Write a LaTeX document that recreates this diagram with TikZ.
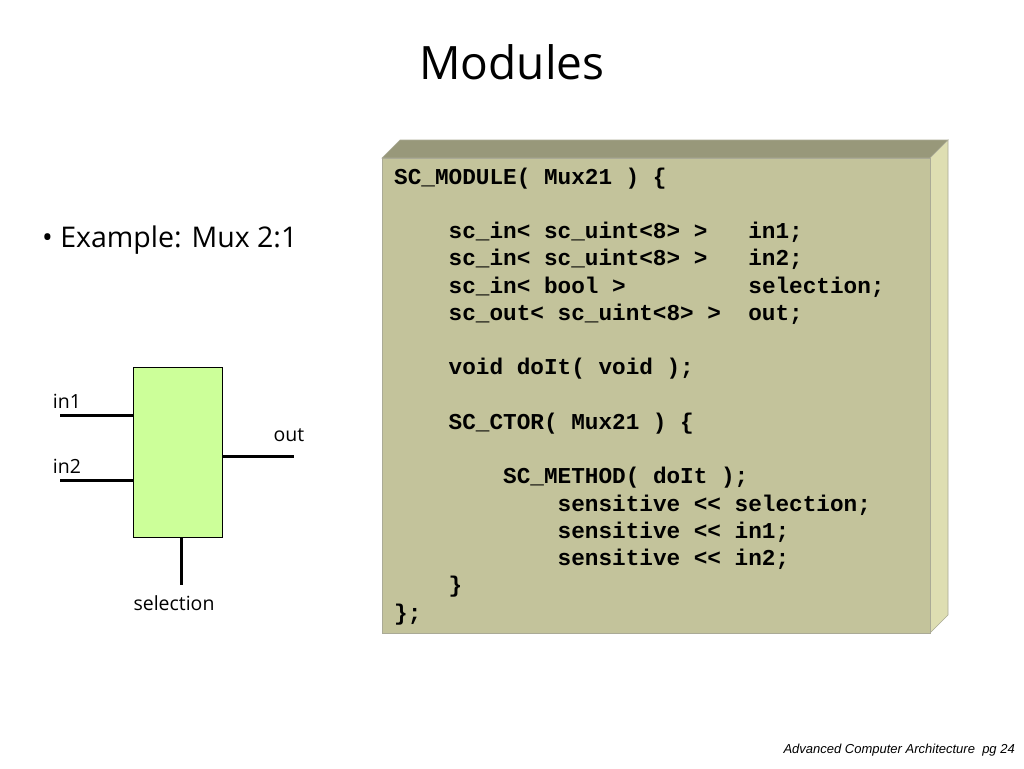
\documentclass[tikz,border=0pt]{standalone}
\usepackage{fontspec}
\setmainfont{Open Sans}
\setmonofont{Liberation Mono}
\newfontfamily\footfont{Liberation Sans}
\definecolor{boxfront}{RGB}{195,195,155}
\definecolor{boxtop}{RGB}{152,152,122}
\definecolor{boxside}{RGB}{222,222,178}
\definecolor{boxedge}{RGB}{170,170,150}
\definecolor{muxfill}{RGB}{204,255,153}
\tikzset{
  codeline/.style={anchor=base west, inner sep=0pt, font=\ttfamily\bfseries\fontsize{22.7}{27}\selectfont},
  wire/.style={line width=3pt},
  lbl/.style={inner sep=0pt, font=\fontsize{19.5}{22}\selectfont},
}
\begin{document}
\begin{tikzpicture}[x=1pt,y=-1pt]
\useasboundingbox[fill=white] (0,0) rectangle (1024,768);
% title
\node[inner sep=0pt, font=\fontsize{46}{50}\selectfont] (title) at (512,62) {Modules};
% bullet
\node[anchor=west, inner sep=0pt, font=\fontsize{28.5}{32}\selectfont] (bullet) at (42,240) {\textbullet\ Example: Mux 2:1};
% code box
\fill[boxtop, draw=boxedge, line width=0.6pt] (382,158) -- (400,140) -- (948,140) -- (930,158) -- cycle;
\fill[boxside, draw=boxedge, line width=0.6pt] (930,158) -- (948,140) -- (948,615) -- (930,633) -- cycle;
\node[draw=boxedge, line width=0.6pt, fill=boxfront, minimum width=548pt, minimum height=475pt, anchor=north west, inner sep=0pt] (codebox) at (382,158) {};
\def\lh{27.25}
\node[codeline] (c0) at (394,{184+0*\lh}) {SC\_MODULE( Mux21 ) \{};
\node[codeline] (c2) at (394,{184+2*\lh}) {~~~~sc\_in< sc\_uint<8> >~~~in1;};
\node[codeline] (c3) at (394,{184+3*\lh}) {~~~~sc\_in< sc\_uint<8> >~~~in2;};
\node[codeline] (c4) at (394,{184+4*\lh}) {~~~~sc\_in< bool >~~~~~~~~~selection;};
\node[codeline] (c5) at (394,{184+5*\lh}) {~~~~sc\_out< sc\_uint<8> >~~out;};
\node[codeline] (c7) at (394,{184+7*\lh}) {~~~~void doIt( void );};
\node[codeline] (c9) at (394,{184+9*\lh}) {~~~~SC\_CTOR( Mux21 ) \{};
\node[codeline] (c11) at (394,{184+11*\lh}) {~~~~~~~~SC\_METHOD( doIt );};
\node[codeline] (c12) at (394,{184+12*\lh}) {~~~~~~~~~~~~sensitive << selection;};
\node[codeline] (c13) at (394,{184+13*\lh}) {~~~~~~~~~~~~sensitive << in1;};
\node[codeline] (c14) at (394,{184+14*\lh}) {~~~~~~~~~~~~sensitive << in2;};
\node[codeline] (c15) at (394,{184+15*\lh}) {~~~~\}};
\node[codeline] (c16) at (394,{184+16*\lh}) {\};};
% mux
\node[draw=black, line width=0.8pt, fill=muxfill, minimum width=89pt, minimum height=170pt, anchor=north west, inner sep=0pt] (mux) at (132.5,367) {};
\coordinate (in1end) at (60,415.7);
\coordinate (in2end) at (60,480.7);
\coordinate (outend) at (294,456.7);
\coordinate (selend) at (181.7,585);
\draw[wire] (in1end) -- (in1end -| mux.west);
\draw[wire] (in2end) -- (in2end -| mux.west);
\draw[wire] (mux.east |- outend) -- (outend);
\draw[wire] (selend |- mux.south) -- (selend);
\node[lbl] (lin1) at (67,401.7) {in1};
\node[lbl] (lin2) at (67,466.7) {in2};
\node[lbl] (lout) at (289,435) {out};
\node[lbl] (lsel) at (174,603) {selection};
% footer
\node[anchor=east, inner sep=0pt, font=\footfont\itshape\fontsize{13}{15}\selectfont] (footer) at (1015,750) {Advanced Computer Architecture~~pg 24};
\end{tikzpicture}
\end{document}
